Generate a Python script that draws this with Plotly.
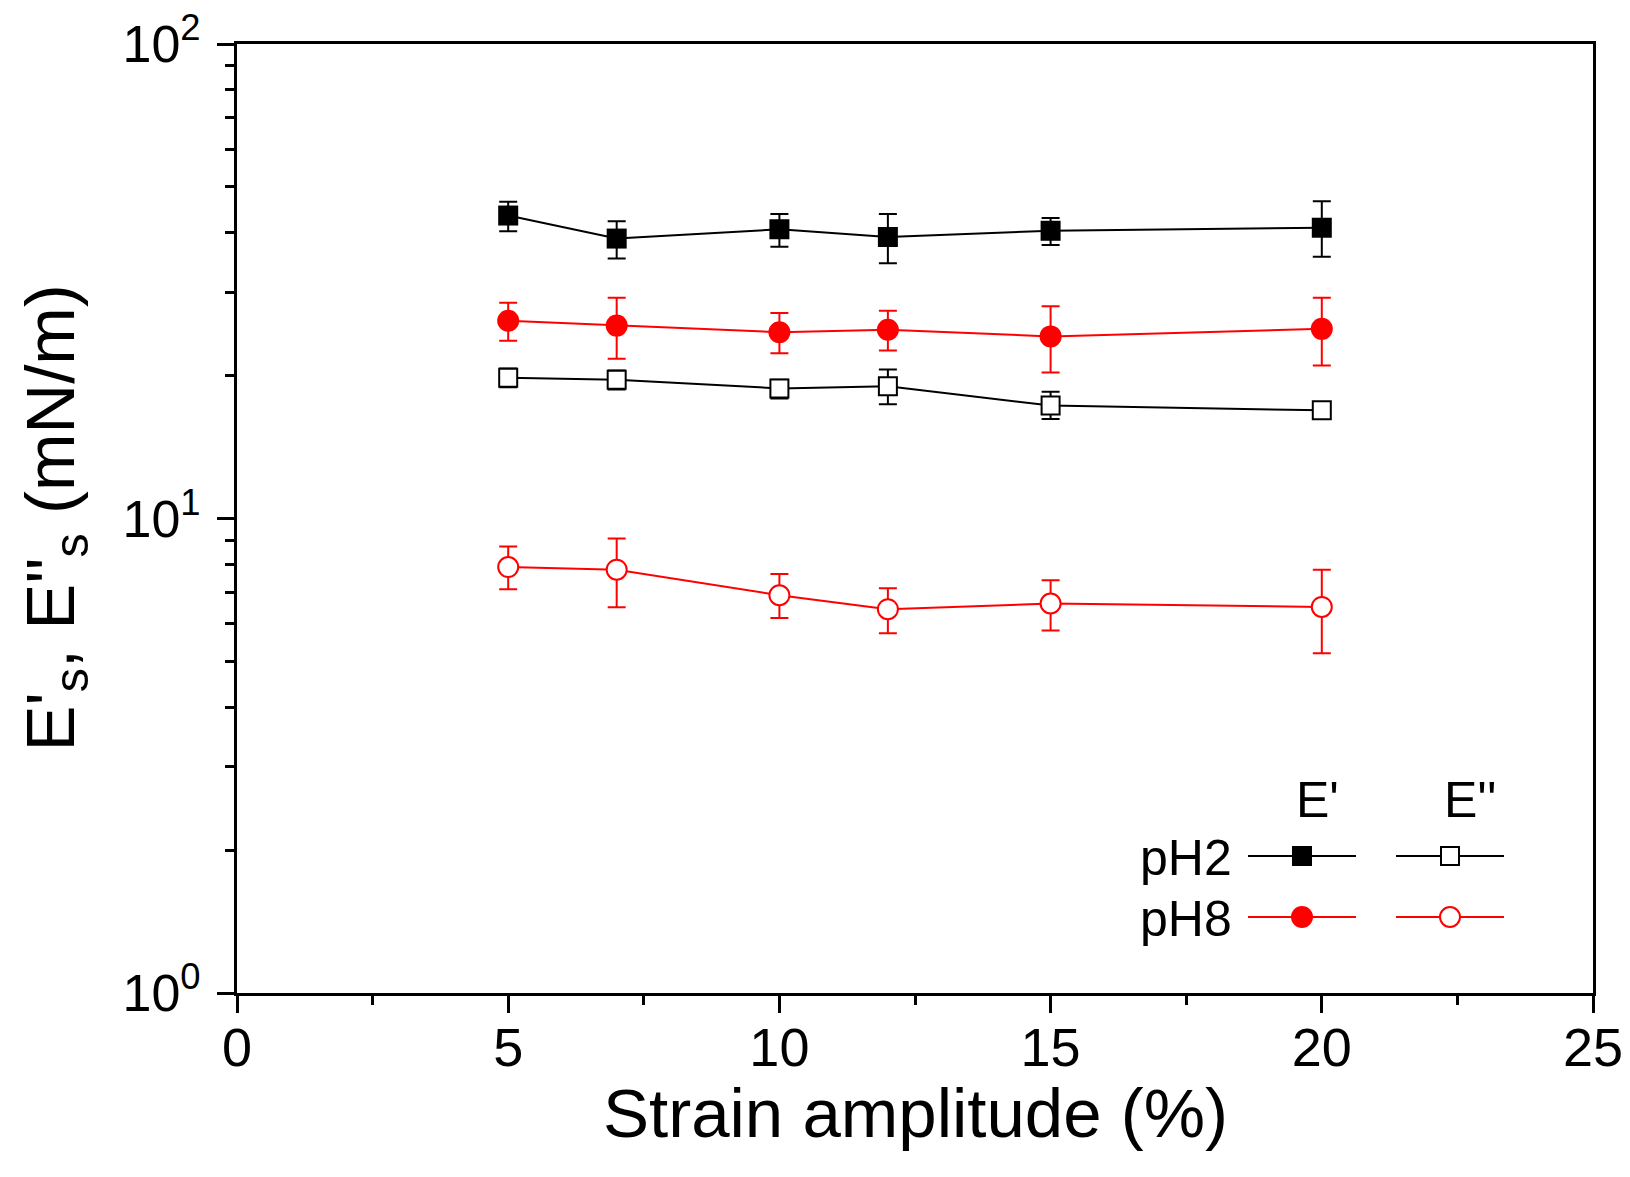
import plotly.graph_objects as go

# ---------------- data ----------------
strain = [5, 7, 10, 12, 15, 20]

pH2_Ep = [43.5, 38.9, 40.7, 39.2, 40.4, 41.0]
pH2_Ep_plus = [3.0, 3.4, 3.1, 4.6, 2.6, 5.6]
pH2_Ep_minus = [3.2, 3.6, 3.3, 4.7, 2.7, 5.4]

pH8_Ep = [26.1, 25.5, 24.7, 25.0, 24.2, 25.1]
pH8_Ep_plus = [2.4, 3.7, 2.4, 2.4, 3.8, 4.1]
pH8_Ep_minus = [2.4, 3.8, 2.4, 2.4, 3.9, 4.1]

pH2_Epp = [19.8, 19.6, 18.8, 19.0, 17.3, 16.9]
pH2_Epp_plus = [0.9, 0.9, 0.8, 1.6, 1.2, 0.3]
pH2_Epp_minus = [0.9, 0.9, 0.9, 1.6, 1.1, 0.3]

pH8_Epp = [7.90, 7.80, 6.89, 6.44, 6.62, 6.51]
pH8_Epp_plus = [0.83, 1.27, 0.75, 0.69, 0.79, 1.29]
pH8_Epp_minus = [0.81, 1.30, 0.72, 0.71, 0.81, 1.31]

x_ticks = [0, 5, 10, 15, 20, 25]
y_tickvals = [1, 10, 100]
y_ticktext = ["10<sup>0</sup>", "10<sup>1</sup>", "10<sup>2</sup>"]
y_minor = [v * d for d in (1, 10) for v in range(2, 10)]

row_labels = ["pH2", "pH8"]
col_labels = ["E'", "E''"]

BLACK = "#000000"
RED = "#FF0000"
FONT = "Liberation Sans, Arial, sans-serif"

# ---------------- figure ----------------
W, H = 1630, 1177
L, R, T, B = 237, 37, 44, 184
PW, PH = W - L - R, H - T - B

fig = go.Figure()

def add_series(y, plus, minus, color, symbol, filled, size):
    fig.add_trace(go.Scatter(
        x=strain, y=y, mode="lines+markers",
        line=dict(color=color, width=2),
        marker=dict(symbol=symbol, size=size,
                    color=color if filled else "white",
                    line=dict(color=color, width=0 if filled else 2)),
        error_y=dict(type="data", array=plus, arrayminus=minus,
                     color=color, thickness=2, width=9, visible=True),
        showlegend=False,
    ))

add_series(pH2_Ep, pH2_Ep_plus, pH2_Ep_minus, BLACK, "square", True, 20)
add_series(pH8_Ep, pH8_Ep_plus, pH8_Ep_minus, RED, "circle", True, 22)
add_series(pH2_Epp, pH2_Epp_plus, pH2_Epp_minus, BLACK, "square", False, 18)
add_series(pH8_Epp, pH8_Epp_plus, pH8_Epp_minus, RED, "circle", False, 20)

# ---------------- legend (drawn manually as a grid) ----------------
def px(X):
    return (X - L) / PW

def py(Y):
    return (T + PH - Y) / PH

shapes = []
annotations = []
row_y = [856, 917]
col_marker_x = [1302, 1450]
line_half = 54
styles = [[(BLACK, "rect", True), (BLACK, "rect", False)],
          [(RED, "circle", True), (RED, "circle", False)]]

for ci, cx in enumerate(col_marker_x):
    annotations.append(dict(
        x=px(cx - 8), y=py(800), xref="paper", yref="paper",
        text=col_labels[ci], showarrow=False, xanchor="left", yanchor="middle",
        font=dict(family=FONT, size=50, color=BLACK)))

for ri, ry in enumerate(row_y):
    annotations.append(dict(
        x=px(1234), y=py(ry + 2), xref="paper", yref="paper",
        text=row_labels[ri], showarrow=False, xanchor="right", yanchor="middle",
        font=dict(family=FONT, size=50, color=BLACK)))
    for ci, cx in enumerate(col_marker_x):
        color, kind, filled = styles[ri][ci]
        shapes.append(dict(type="line", xref="paper", yref="paper",
                           x0=px(cx - line_half), x1=px(cx + line_half),
                           y0=py(ry), y1=py(ry),
                           line=dict(color=color, width=2), layer="above"))
        half = 10 if kind == "rect" else 11
        if not filled:
            half -= 1
        shapes.append(dict(type=kind, xref="paper", yref="paper",
                           xsizemode="pixel", ysizemode="pixel",
                           xanchor=px(cx), yanchor=py(ry),
                           x0=-half, x1=half, y0=-half, y1=half,
                           fillcolor=color if filled else "white",
                           line=dict(color=color, width=0 if filled else 2),
                           layer="above"))

# axis titles
annotations.append(dict(
    x=0.5, y=0, xref="paper", yref="paper", yshift=-120,
    text="Strain amplitude (%)", showarrow=False,
    xanchor="center", yanchor="middle",
    font=dict(family=FONT, size=69, color=BLACK)))
annotations.append(dict(
    x=0, y=0.5, xref="paper", yref="paper", xshift=-183,
    text="E'<sub>s</sub>, E''<sub>s</sub> (mN/m)", showarrow=False, textangle=-90,
    xanchor="center", yanchor="middle",
    font=dict(family=FONT, size=69, color=BLACK)))

fig.update_layout(
    width=W, height=H,
    margin=dict(l=L, r=R, t=T, b=B, pad=0, autoexpand=False),
    paper_bgcolor="white", plot_bgcolor="white",
    shapes=shapes, annotations=annotations,
    showlegend=False,
    font=dict(family=FONT, color=BLACK),
)

fig.update_xaxes(
    automargin=False,
    range=[0, 25], tickvals=x_ticks, ticktext=[str(v) for v in x_ticks],
    showgrid=False, zeroline=False,
    showline=True, linecolor=BLACK, linewidth=3, mirror=True,
    ticks="outside", ticklen=17, tickwidth=2.5, tickcolor=BLACK,
    ticklabelstandoff=-12,
    tickfont=dict(family=FONT, size=54, color=BLACK),
    minor=dict(ticks="outside", ticklen=9, tickwidth=2.5, tickcolor=BLACK,
               dtick=2.5, showgrid=False),
)
fig.update_yaxes(
    automargin=False,
    type="log", range=[0, 2], tickvals=y_tickvals, ticktext=y_ticktext,
    showgrid=False, zeroline=False,
    showline=True, linecolor=BLACK, linewidth=3, mirror=True,
    ticks="outside", ticklen=17, tickwidth=2.5, tickcolor=BLACK,
    ticklabelstandoff=6,
    tickfont=dict(family=FONT, size=52, color=BLACK),
    minor=dict(ticks="outside", ticklen=9, tickwidth=2.5, tickcolor=BLACK,
               tickvals=y_minor, showgrid=False),
)

fig.write_html(
    "out.html",
    config={"displayModeBar": False},
    post_script="document.body.style.margin='0px';document.body.style.overflow='hidden';",
)
